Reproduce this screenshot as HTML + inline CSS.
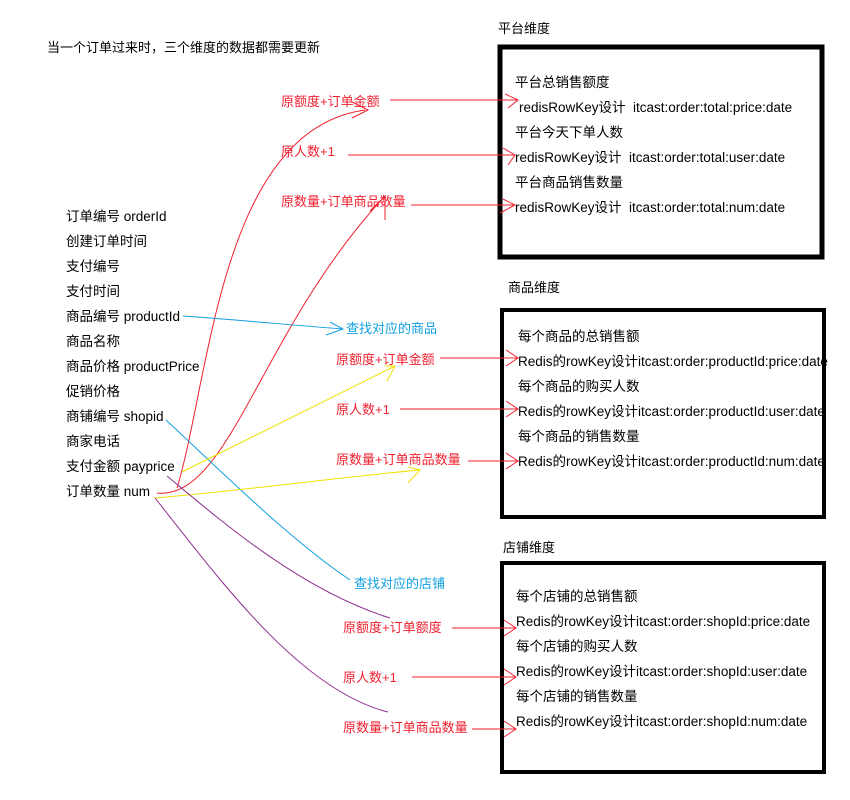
<!DOCTYPE html>
<html><head><meta charset="utf-8"><style>
body{margin:0;background:#fff;width:850px;height:800px;overflow:hidden}
svg{display:block}
text{font-family:"Liberation Sans","Noto Sans CJK SC",sans-serif;font-size:13px}
.k text{fill:#000;font-size:13.5px}.r{fill:#f02030}.b{fill:#10a0e0}
</style></head><body>
<svg width="850" height="800" viewBox="0 0 850 800">
<text x="47" y="52">当一个订单过来时，三个维度的数据都需要更新</text>
<text x="498" y="33">平台维度</text>
<text x="508" y="292">商品维度</text>
<text x="503" y="552">店铺维度</text>
<rect x="500" y="47" width="322" height="210" fill="none" stroke="#000" stroke-width="5"/>
<rect x="502" y="310" width="322" height="207" fill="none" stroke="#000" stroke-width="4"/>
<rect x="502" y="563" width="322" height="209" fill="none" stroke="#000" stroke-width="4"/>
<g class="k">
<text x="515" y="87">平台总销售额度</text>
<text x="519" y="112">redisRowKey设计&#160; itcast:order:total:price:date</text>
<text x="515" y="137">平台今天下单人数</text>
<text x="515" y="162">redisRowKey设计&#160; itcast:order:total:user:date</text>
<text x="515" y="187">平台商品销售数量</text>
<text x="515" y="212">redisRowKey设计&#160; itcast:order:total:num:date</text>
<text x="518" y="341">每个商品的总销售额</text>
<text x="518" y="366">Redis的rowKey设计itcast:order:productId:price:date</text>
<text x="518" y="391">每个商品的购买人数</text>
<text x="518" y="416">Redis的rowKey设计itcast:order:productId:user:date</text>
<text x="518" y="441">每个商品的销售数量</text>
<text x="518" y="466">Redis的rowKey设计itcast:order:productId:num:date</text>
<text x="516" y="601">每个店铺的总销售额</text>
<text x="516" y="626">Redis的rowKey设计itcast:order:shopId:price:date</text>
<text x="516" y="651">每个店铺的购买人数</text>
<text x="516" y="676">Redis的rowKey设计itcast:order:shopId:user:date</text>
<text x="516" y="701">每个店铺的销售数量</text>
<text x="516" y="726">Redis的rowKey设计itcast:order:shopId:num:date</text>
<text x="66" y="221">订单编号 orderId</text>
<text x="66" y="246">创建订单时间</text>
<text x="66" y="271">支付编号</text>
<text x="66" y="296">支付时间</text>
<text x="66" y="321">商品编号 productId</text>
<text x="66" y="346">商品名称</text>
<text x="66" y="371">商品价格 productPrice</text>
<text x="66" y="396">促销价格</text>
<text x="66" y="421">商铺编号 shopid</text>
<text x="66" y="446">商家电话</text>
<text x="66" y="471">支付金额 payprice</text>
<text x="66" y="496">订单数量 num</text>
</g>
<g class="r">
<text x="281" y="106">原额度+订单金额</text>
<text x="281" y="156">原人数+1</text>
<text x="281" y="206">原数量+订单商品数量</text>
<text x="336" y="364">原额度+订单金额</text>
<text x="336" y="414">原人数+1</text>
<text x="336" y="464">原数量+订单商品数量</text>
<text x="343" y="632">原额度+订单额度</text>
<text x="343" y="682">原人数+1</text>
<text x="343" y="732">原数量+订单商品数量</text>
</g>
<text x="346" y="333" class="b">查找对应的商品</text>
<text x="354" y="588" class="b">查找对应的店铺</text>
<g fill="none" stroke-width="1">
<g stroke="#f02030">
<path d="M390 100H518M505 94L518 100L508 108"/>
<path d="M348 155H515M503 148L515 155L508 165"/>
<path d="M411 205H515M503 199L515 205L500 213"/>
<path d="M440 358H518M506 350L518 358L506 366"/>
<path d="M400 409H518M506 401L518 409L506 417"/>
<path d="M468 461H518M506 453L518 461L506 469"/>
<path d="M452 628H516M504 620L516 628L504 636"/>
<path d="M412 677H516M504 669L516 677L504 685"/>
<path d="M472 729H516M504 721L516 729L504 737"/>
<path d="M177 488C210 380 220 130 365 110M352 102L368 110L352 118"/>
<path d="M157 493C230 500 260 330 385 196M370 211L385 196L385 220"/>
</g>
<path stroke="#10a0e0" d="M183 316C240 320 290 325 343 329M330 322L343 329L326 335"/>
<path stroke="#10a0e0" d="M166 420C220 470 290 540 350 580"/>
<path stroke="#f0e000" d="M182 472L395 366M385 366L395 366L387 381"/>
<path stroke="#f0e000" d="M155 498C250 490 330 478 420 470M408 467L420 470L408 483"/>
<path stroke="#903090" d="M167 476C220 520 300 590 390 618"/>
<path stroke="#903090" d="M155 498C220 580 300 690 388 712"/>
</g>
</svg>
</body></html>
